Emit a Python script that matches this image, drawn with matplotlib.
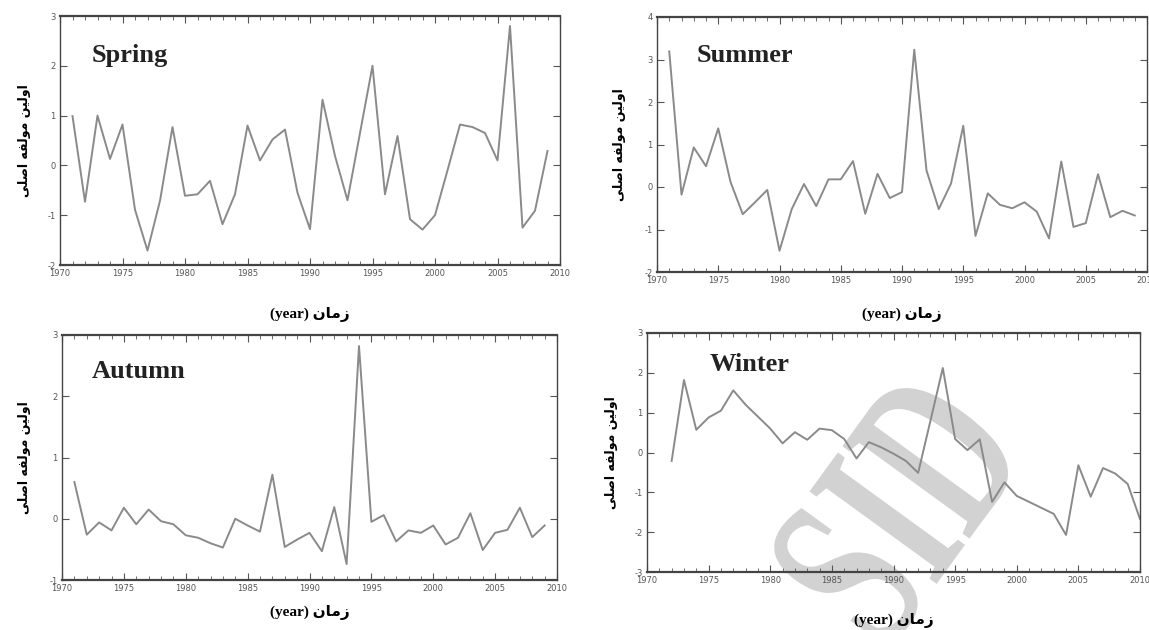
import numpy as np
import matplotlib
matplotlib.use('Agg')
from matplotlib import pyplot as plt
from matplotlib.ticker import MultipleLocator
from matplotlib.textpath import TextPath
from matplotlib.font_manager import FontProperties
from matplotlib.patches import PathPatch
from matplotlib.transforms import Affine2D

plt.rcParams['axes.unicode_minus'] = False

# first principal component per season
spring_years = list(range(1971, 2010))
spring = [0.99, -0.73, 1.0, 0.13, 0.82, -0.89, -1.71, -0.71, 0.77, -0.61,
          -0.58, -0.31, -1.18, -0.58, 0.8, 0.1, 0.52, 0.72, -0.55, -1.28,
          1.32, 0.19, -0.7, 0.65, 2.0, -0.58, 0.59, -1.08, -1.29, -1.0,
          -0.1, 0.82, 0.77, 0.65, 0.1, 2.8, -1.25, -0.91, 0.29]

summer_years = list(range(1971, 2010))
summer = [3.19, -0.18, 0.93, 0.49, 1.38, 0.12, -0.64, -0.36, -0.07, -1.5,
          -0.52, 0.07, -0.45, 0.18, 0.18, 0.61, -0.63, 0.31, -0.26, -0.12,
          3.23, 0.39, -0.52, 0.08, 1.44, -1.15, -0.15, -0.42, -0.5, -0.36,
          -0.58, -1.21, 0.6, -0.94, -0.85, 0.3, -0.71, -0.56, -0.67]

autumn_years = list(range(1971, 2010))
autumn = [0.6, -0.26, -0.06, -0.19, 0.18, -0.09, 0.15, -0.04, -0.09, -0.27,
          -0.31, -0.4, -0.47, 0.0, -0.11, -0.21, 0.72, -0.46, -0.34, -0.23,
          -0.53, 0.19, -0.74, 2.82, -0.05, 0.06, -0.37, -0.19, -0.23, -0.11,
          -0.42, -0.31, 0.09, -0.51, -0.23, -0.18, 0.18, -0.3, -0.11]

winter_years = list(range(1972, 2011))
winter = [-0.21, 1.82, 0.57, 0.88, 1.05, 1.56, 1.2, 0.9, 0.6, 0.23,
          0.51, 0.32, 0.6, 0.56, 0.34, -0.15, 0.26, 0.13, -0.03, -0.21,
          -0.51, 0.8, 2.12, 0.34, 0.06, 0.33, -1.24, -0.75, -1.09, -1.24,
          -1.39, -1.54, -2.07, -0.32, -1.11, -0.39, -0.53, -0.79, -1.67]

seasons = ['Spring', 'Summer', 'Autumn', 'Winter']
ylims = [(-2, 3), (-2, 4), (-1, 3), (-3, 3)]

# arabic text in visual order, presentation forms (matplotlib does no shaping)
ylab = '\uFEF0\uFEE0\uFEBB\uFE8D \uFEEA\uFED4\uFEDF\uFEEE\uFEE3 \uFEE6\uFEF4\uFEDF\uFEED\uFE8D'
xlab = '(year) \uFEE5\uFE8E\uFEE3\uFEAF'

fig = plt.figure(figsize=(11.49, 6.30), dpi=100)

# axes box (px), name position, xlabel y, ylabel x (figure px)
boxes = [
    ([60, 16, 560, 265], (0.064, 0.84), 315, 25),
    ([657, 17, 1147, 272], (0.08, 0.85), 315, 620),
    ([62, 335, 557, 580], (0.06, 0.85), 612, 25),
    ([647, 333, 1140, 572], (0.128, 0.87), 620, 612),
]
data = [(spring_years, spring), (summer_years, summer),
        (autumn_years, autumn), (winter_years, winter)]

W, H = 1149.0, 630.0

# watermark: tall, narrow "SID" behind everything
tp = TextPath((0, 0), 'SID', size=1,
              prop=FontProperties(family='Liberation Serif', weight='bold'))
bb = tp.get_extents()
wm_tr = (Affine2D().translate(-(bb.x0 + bb.x1) / 2, -(bb.y0 + bb.y1) / 2)
         .scale(150, 240).rotate_deg(54).translate(895, H - 508))
wm = PathPatch(tp, transform=wm_tr, facecolor='#d2d2d2', edgecolor='none',
               zorder=-5)
fig.add_artist(wm)

for i in range(4):
    (x0, y0, x1, y1), npos, xly, ylx = boxes[i]
    ax = fig.add_axes([x0 / W, 1 - y1 / H, (x1 - x0) / W, (y1 - y0) / H])
    ax.set_facecolor('none')
    yrs, vals = data[i]
    ax.plot(yrs, vals, color='#8a8a8a', lw=1.4)
    ax.set_xlim(1970, 2010)
    ax.set_ylim(*ylims[i])
    ax.xaxis.set_major_locator(MultipleLocator(5))
    ax.xaxis.set_minor_locator(MultipleLocator(1))
    ax.yaxis.set_major_locator(MultipleLocator(1))
    ax.tick_params(which='both', direction='in', top=True, right=True,
                   colors='#555555', labelsize=6, pad=3)
    ax.tick_params(which='major', length=5, width=0.8)
    ax.tick_params(which='minor', length=3, width=0.6)
    ax.tick_params(axis='y', which='minor', left=False, right=False)
    for s in ax.spines.values():
        s.set_color('#444444')
        s.set_linewidth(1.0)
    ax.spines['top'].set_linewidth(1.6)
    ax.spines['bottom'].set_linewidth(1.6)
    ax.text(npos[0], npos[1], seasons[i], transform=ax.transAxes,
            fontsize=19, fontweight='bold', family='Liberation Serif',
            color='#222222', va='center', ha='left')
    cx = (x0 + x1) / 2.0
    fig.text(cx / W, 1 - xly / H, xlab, ha='center', va='center',
             fontsize=11, fontweight='bold',
             family=['Liberation Serif', 'DejaVu Sans'])
    fig.text(ylx / W, 1 - ((y0 + y1) / 2.0) / H, ylab, rotation=90,
             ha='center', va='center', fontsize=9, fontweight='bold',
             family='DejaVu Sans')

fig.savefig('out.png', dpi=100, facecolor='white')
